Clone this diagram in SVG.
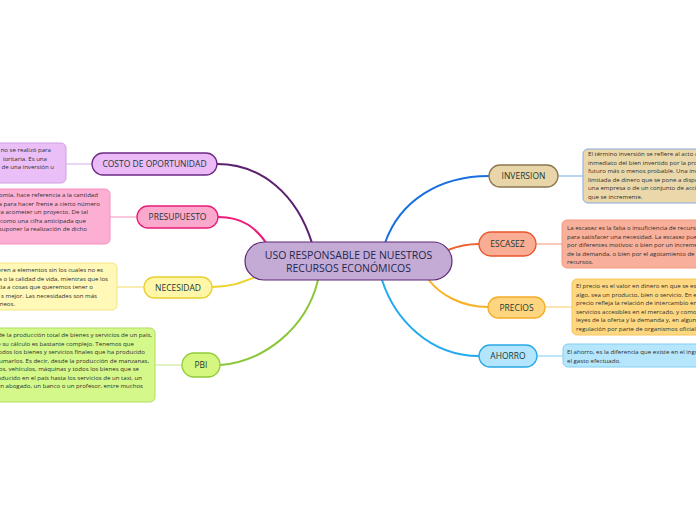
<svg xmlns="http://www.w3.org/2000/svg" width="696" height="520" viewBox="0 0 696 520">
<style>
.lbl{font-family:"Open Sans","Noto Sans","Liberation Sans",sans-serif;font-size:8.5px;font-weight:500;fill:#1b3834;text-anchor:middle}
.ctr{font-family:"Open Sans","Noto Sans","Liberation Sans",sans-serif;font-size:10.5px;font-weight:500;fill:#24264d;text-anchor:middle}
.d{font-family:"Open Sans","Noto Sans","Liberation Sans",sans-serif;font-size:6.1px;fill:#2e2e2e}
.e{text-anchor:end}
.br{fill:none;stroke-width:2;stroke-linecap:round}
.ln{fill:none;stroke-width:1.2}
</style>
<rect width="696" height="520" fill="#ffffff"/>
<g id="connectors">
<path class="br" d="M217,164 C262,164 297,195 312,243" stroke="#5c2070"/>
<path class="br" d="M218,217 C243,217 256,228 267,244" stroke="#ee1b79"/>
<path class="br" d="M212,287 C232,287 243,282 258,276" stroke="#ecd325"/>
<path class="br" d="M220,365 C262,362 306,330 318,280" stroke="#8cc63a"/>
<path class="br" d="M489,176 C440,176 400,200 385,243" stroke="#1a6fe0"/>
<path class="br" d="M479,244 C466,244 458,246 448,250" stroke="#f0602e"/>
<path class="br" d="M488,307 C462,307 440,295 428,279" stroke="#f8b225"/>
<path class="br" d="M479,356 C430,356 395,320 382,280" stroke="#22a9ef"/>
<path class="ln" d="M66,164 H92" stroke="#dcb8ec"/>
<path class="ln" d="M110,217 H137" stroke="#f7a3c9"/>
<path class="ln" d="M117,287 H144" stroke="#f3e27a"/>
<path class="ln" d="M155,365 H182" stroke="#cdeb9a"/>
<path class="ln" d="M558,176 H583" stroke="#8fb6ee"/>
<path class="ln" d="M536,244 H562" stroke="#f6a68c"/>
<path class="ln" d="M545,307 H572" stroke="#fad47a"/>
<path class="ln" d="M537,356 H563" stroke="#91d6f6"/>
</g>
<g id="center">
<rect x="245" y="242" width="207" height="38" rx="19" fill="#c3abd6" stroke="#5e2a78" stroke-width="1.2"/>
<text class="ctr" x="348.5" y="258.5">USO RESPONSABLE DE NUESTROS</text>
<text class="ctr" x="348.5" y="271.5">RECURSOS ECONÓMICOS</text>
</g>
<g id="costo">
<rect x="92" y="153" width="125" height="22" rx="11" fill="#ebbaf7" stroke="#6d2b84" stroke-width="1.3"/>
<text class="lbl" x="154.5" y="167">COSTO DE OPORTUNIDAD</text>
</g>
<g id="costo-desc">
<rect x="-10" y="143" width="76" height="40" rx="5" fill="#eabff8" stroke="#cf9fe6" stroke-width="1"/>
<text class="d e" x="51" y="152">no se realizó para</text>
<text class="d e" x="47" y="160.5">ioritaria. Es una</text>
<text class="d e" x="54" y="169">de una inversión u</text>
</g>
<g id="presupuesto">
<rect x="137" y="206" width="81" height="22" rx="11" fill="#fba8cd" stroke="#ec1a78" stroke-width="1.3"/>
<text class="lbl" x="177.5" y="220">PRESUPUESTO</text>
</g>
<g id="presupuesto-desc">
<rect x="-10" y="189" width="120" height="55" rx="5" fill="#fdafd3" stroke="#f590c0" stroke-width="1"/>
<text class="d e" x="98" y="197">omía, hace referencia a la cantidad</text>
<text class="d e" x="100" y="205.5">a para hacer frente a cierto número</text>
<text class="d e" x="88" y="214">ra acometer un proyecto. De tal</text>
<text class="d e" x="86" y="222.5">r como una cifra anticipada que</text>
<text class="d e" x="87" y="231">suponer la realización de dicho</text>
</g>
<g id="necesidad">
<rect x="144" y="277" width="68" height="21" rx="10.5" fill="#fff6a8" stroke="#e8d030" stroke-width="1.3"/>
<text class="lbl" x="178" y="290.5">NECESIDAD</text>
</g>
<g id="necesidad-desc">
<rect x="-10" y="263" width="127" height="47" rx="5" fill="#fff8b6" stroke="#f3e485" stroke-width="1"/>
<text class="d e" x="103" y="272">eren a elementos sin los cuales no es</text>
<text class="d e" x="108" y="280.5">a o la calidad de vida, mientras que los</text>
<text class="d e" x="93" y="289">cia a cosas que queremos tener o</text>
<text class="d e" x="97" y="297.5">s mejor. Las necesidades son más</text>
<text class="d e" x="15" y="306">neos.</text>
</g>
<g id="pbi">
<rect x="182" y="353" width="38" height="24" rx="12" fill="#d6f77f" stroke="#8fcb3a" stroke-width="1.3"/>
<text class="lbl" x="201" y="368">PBI</text>
</g>
<g id="pbi-desc">
<rect x="-10" y="328" width="165" height="74" rx="5" fill="#d5f88b" stroke="#aedd5e" stroke-width="1"/>
<text class="d e" x="152" y="337">de la producción total de bienes y servicios de un país,</text>
<text class="d e" x="134" y="345.5">e su cálculo es bastante complejo. Tenemos que</text>
<text class="d e" x="145" y="354">todos los bienes y servicios finales que ha producido</text>
<text class="d e" x="149" y="362.5">sumarlos. Es decir, desde la producción de manzanas,</text>
<text class="d e" x="139" y="371">ros, vehículos, máquinas y todos los bienes que se</text>
<text class="d e" x="142" y="379.5">oducido en el país hasta los servicios de un taxi, un</text>
<text class="d e" x="143" y="388">un abogado, un banco o un profesor, entre muchos</text>
</g>
<g id="inversion">
<rect x="489" y="165" width="69" height="22" rx="11" fill="#e8d5a8" stroke="#8b7752" stroke-width="1.3"/>
<text class="lbl" x="523.5" y="179">INVERSION</text>
</g>
<g id="inversion-desc">
<rect x="583" y="149" width="130" height="54" rx="5" fill="#ebd8aa" stroke="#86aadf" stroke-width="1"/>
<text class="d" x="588" y="156">El término inversión se refiere al acto d</text>
<text class="d" x="588" y="164.5">inmediato del bien invertido por la pror</text>
<text class="d" x="588" y="173">futuro más o menos probable. Una inve</text>
<text class="d" x="588" y="181.5">limitada de dinero que se pone a dispo</text>
<text class="d" x="588" y="190">una empresa o de un conjunto de accio</text>
<text class="d" x="588" y="198.5">que se incremente.</text>
</g>
<g id="escasez">
<rect x="479" y="232" width="57" height="24" rx="12" fill="#f9ad95" stroke="#e8552c" stroke-width="1.3"/>
<text class="lbl" x="507.5" y="247">ESCASEZ</text>
</g>
<g id="escasez-desc">
<rect x="562" y="220" width="150" height="48" rx="5" fill="#f9b09a" stroke="#f39a80" stroke-width="1"/>
<text class="d" x="567" y="230">La escasez es la falta o insuficiencia de recurso</text>
<text class="d" x="567" y="238.5">para satisfacer una necesidad. La escasez pue</text>
<text class="d" x="567" y="247">por diferentes motivos: o bien por un incremer</text>
<text class="d" x="567" y="255.5">de la demanda, o bien por el agotamiento de la</text>
<text class="d" x="567" y="264">recursos.</text>
</g>
<g id="precios">
<rect x="488" y="297" width="57" height="21" rx="10.5" fill="#fed680" stroke="#f5ac2a" stroke-width="1.3"/>
<text class="lbl" x="516.5" y="310.5">PRECIOS</text>
</g>
<g id="precios-desc">
<rect x="572" y="279" width="140" height="56" rx="5" fill="#fdd881" stroke="#f8c65c" stroke-width="1"/>
<text class="d" x="576" y="288">El precio es el valor en dinero en que se esti</text>
<text class="d" x="576" y="296.5">algo, sea un producto, bien o servicio. En es</text>
<text class="d" x="576" y="305">precio refleja la relación de intercambio en</text>
<text class="d" x="576" y="313.5">servicios accesibles en el mercado, y como</text>
<text class="d" x="576" y="322">leyes de la oferta y la demanda y, en algune</text>
<text class="d" x="576" y="330.5">regulación por parte de organismos oficiale</text>
</g>
<g id="ahorro">
<rect x="479" y="345" width="58" height="22" rx="11" fill="#b3e5fc" stroke="#2aa8e8" stroke-width="1.3"/>
<text class="lbl" x="508" y="359">AHORRO</text>
</g>
<g id="ahorro-desc">
<rect x="563" y="344" width="150" height="23" rx="5" fill="#b5e6fb" stroke="#82d0f4" stroke-width="1"/>
<text class="d" x="567" y="354">El ahorro, es la diferencia que existe en el ingr</text>
<text class="d" x="567" y="362.5">el gasto efectuado.</text>
</g>
</svg>
